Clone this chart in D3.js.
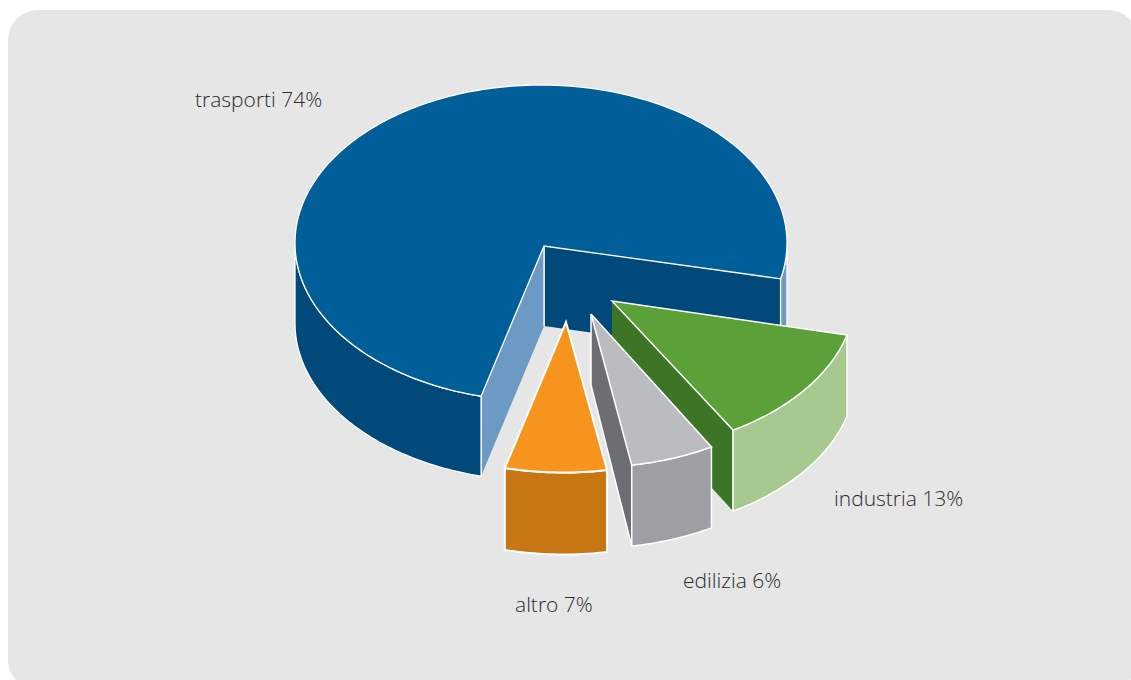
<!DOCTYPE html>
<html lang="it">
<head>
<meta charset="utf-8">
<script src="https://cdn.jsdelivr.net/npm/d3@7"></script>
<style>
html,body{margin:0;padding:0;background:#fff;overflow:hidden}
svg{display:block}
text{font-family:"Open Sans",sans-serif;font-weight:300;font-size:21px;fill:#2b2b2e}
</style>
</head>
<body>
<div id="chart"></div>
<script>
// Data
const categories = ["trasporti", "industria", "edilizia", "altro"];
const shares = [74, 13, 6, 7];

// Styles
const topColors = ["#005f99", "#5ca137", "#bbbcc0", "#f7941d"];
const wallColors = ["#00497a", "#a7c88e", "#9e9fa3", "#c67612"];
const startCutColor = "#6d9ac5";
const endCutColors = ["#00497a", "#3d7526", "#6d6e72", "#c67612"];
const mainRimRightColor = "#6d9ac5";

// Layout
const W = 1131, H = 680;
const radiusX = 246, radiusY = 158;
const depths = [80, 81, 81, 82];
const apexDepths = [80, 78, 71, 82];
const rimCx = [541, 609.7, 590.3, 563.3];   // centre of each slice's rim ellipse
const rimCy = [243, 293.4, 309.4, 314.5];
const apexX = [544, 612, 591, 566];         // drawn tip of each slice
const apexY = [246, 301, 314, 322];
const arcAdjStart = [0, 4.8, 3.2, 0.85];    // drawing adjustments of arc ends, degrees
const arcAdjEnd = [2.6, 2.6, 1.4, -0.35];
const labelX = [195, 834, 683, 515];
const labelY = [107, 506, 588, 612];
const strokeW = [1.3, 1.4, 1.5, 2];
const startDeg = 104.1;
const toRad = Math.PI / 180;

const svg = d3.select("#chart").append("svg").attr("width", W).attr("height", H);
svg.append("rect").attr("x", 8).attr("y", 10).attr("width", 1130).attr("height", 680)
  .attr("rx", 30).attr("ry", 30).attr("fill", "#e6e6e6");

const sx = d3.scaleLinear().domain([-1, 1]).range([-radiusX, radiusX]);
const sy = d3.scaleLinear().domain([-1, 1]).range([-radiusY, radiusY]);

const a0 = startDeg * toRad;
const slices = d3.pie().sort(null).startAngle(a0).endAngle(a0 + 2 * Math.PI)(shares);
// slices after the first wrap past a full turn: bring them back to one turn
const spans = slices.map((s, i) => {
  const wrap = i === 0 ? 0 : 2 * Math.PI;
  return [s.startAngle - wrap + arcAdjStart[i] * toRad, s.endAngle - wrap + arcAdjEnd[i] * toRad];
});

const line = d3.line().x(d => d[0]).y(d => d[1]);
function rim(i, a, b, dz) {
  const n = Math.max(1, Math.ceil(Math.abs(b - a) / 0.02));
  return d3.range(n + 1).map(k => {
    const t = a + (b - a) * k / n;
    return [rimCx[i] + sx(Math.cos(t)), rimCy[i] + sy(Math.sin(t)) + dz];
  });
}
function poly(i, pts, fill, close, stroke) {
  return svg.append("path").attr("d", line(pts) + (close ? "Z" : ""))
    .attr("fill", fill).attr("stroke", stroke ? "#fff" : "none")
    .attr("stroke-width", strokeW[i]).attr("stroke-linejoin", "miter");
}
// front-facing parts of an angular span, where sin(angle) > 0
function visibleSpans(a, b) {
  const out = [];
  for (let k = 0; k < 2; k++) {
    const lo = Math.max(a, k * 2 * Math.PI), hi = Math.min(b, k * 2 * Math.PI + Math.PI);
    if (hi > lo) out.push([lo, hi]);
  }
  return out;
}

function drawSlice(i) {
  const [a, b] = spans[i];
  const d = depths[i];
  const c = [apexX[i], apexY[i]], cb = [apexX[i], apexY[i] + apexDepths[i]];
  const pa = rim(i, a, a, 0)[0], pb = rim(i, b, b, 0)[0];
  const pab = [pa[0], pa[1] + d], pbb = [pb[0], pb[1] + d];

  // Cut faces: visible when their outward side faces the viewer
  if (Math.cos(b) > 0) {
    poly(i, [c, pb, pbb, cb], endCutColors[i], true, false);
    poly(i, [pb, pbb], "none", false, true);
    poly(i, [cb, c], "none", false, i !== 1);
    if (i === 2) poly(i, [cb, pbb], "none", false, true);
  }
  if (-Math.cos(a) > 0) {
    poly(i, [c, pa, pab, cb], startCutColor, true, false);
    poly(i, [pa, pab], "none", false, true);
    poly(i, [c, cb], "none", false, true);
  }

  // Outer walls
  visibleSpans(a, b).forEach(([lo, hi]) => {
    const upper = rim(i, lo, hi, 0), lower = rim(i, hi, lo, d);
    const color = (i === 0 && lo >= 2 * Math.PI) ? mainRimRightColor : wallColors[i];
    poly(i, upper.concat(lower), color, true, true);
  });

  // Top face
  poly(i, [c].concat(rim(i, a, b, 0)), topColors[i], true, true);
}

[0, 1, 2, 3].forEach(drawSlice);

svg.append("g").selectAll("text").data(categories).join("text")
  .attr("x", (d, i) => labelX[i]).attr("y", (d, i) => labelY[i])
  .text((d, i) => `${d} ${shares[i]}%`);
</script>
</body>
</html>
